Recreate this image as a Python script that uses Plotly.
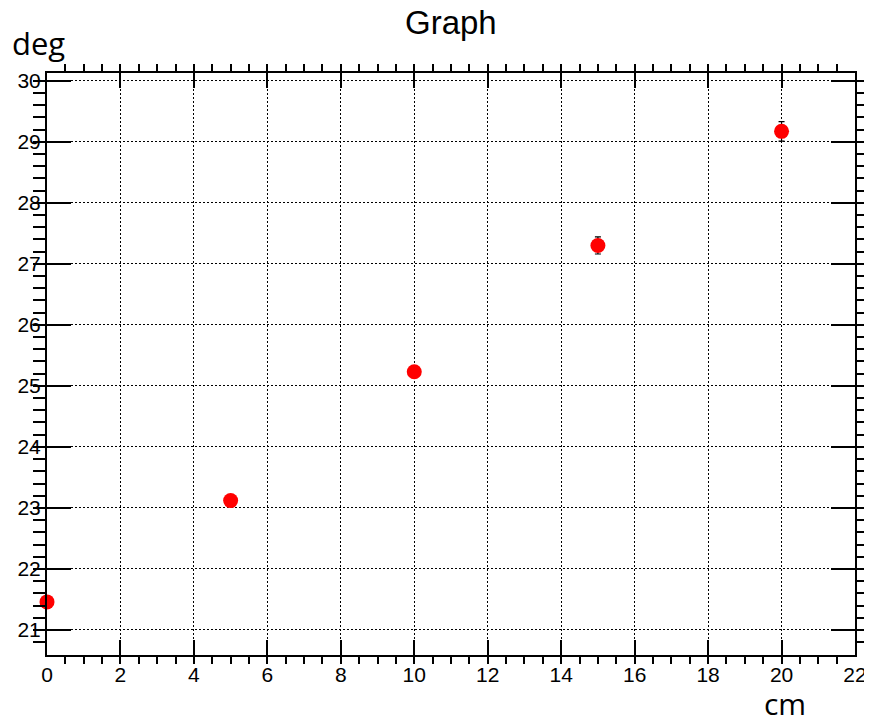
import plotly.graph_objects as go

# measurements
dist_cm = [0, 5, 10, 15, 20]
angle_deg = [21.46, 23.12, 25.23, 27.30, 29.17]
angle_err = [0.05, 0.05, 0.05, 0.14, 0.16]

fig = go.Figure()
fig.add_trace(go.Scatter(
    x=dist_cm, y=angle_deg, mode='markers',
    marker=dict(color='#ff0000', size=15, line=dict(width=0)),
    error_y=dict(type='data', array=angle_err, visible=True,
                 color='black', thickness=1.2, width=3),
    showlegend=False, cliponaxis=False,
))

tickfont = dict(family='Liberation Sans, Arial, sans-serif', size=21, color='black')
axis_common = dict(
    showline=True, linecolor='black', linewidth=2, mirror='ticks',
    ticks='inside', tickcolor='black', tickwidth=1.5,
    showgrid=True, gridcolor='black', griddash='1.5px,2.5px', gridwidth=1,
    zeroline=False, tickfont=tickfont, automargin=False,
)

fig.update_xaxes(range=[0, 22], dtick=2, tick0=0, ticklen=15,
                 minor=dict(dtick=0.5, ticklen=7, tickcolor='black', showgrid=False),
                 **axis_common)
fig.update_yaxes(range=[20.59, 30.126], dtick=1, tick0=21, ticklen=24,
                 minor=dict(dtick=0.2, ticklen=12, tickcolor='black', showgrid=False),
                 **axis_common)

# the page body adds an 8px offset, so margins are shifted to compensate
fig.update_layout(
    width=872, height=723,
    margin=dict(l=39, r=25, t=65, b=76),
    plot_bgcolor='white', paper_bgcolor='white',
    annotations=[
        dict(text='Graph', xref='paper', yref='paper', x=0.5, y=1.086,
             xanchor='center', yanchor='middle', showarrow=False, borderpad=0,
             font=dict(family='Liberation Sans, Arial, sans-serif', size=33, color='black')),
        dict(text='deg', xref='paper', yref='paper', x=-0.01, y=1.052,
             xanchor='center', yanchor='middle', showarrow=False, borderpad=0,
             font=dict(family='Open Sans, sans-serif', size=31, color='black')),
        dict(text='cm', xref='paper', yref='paper', x=0.913, y=-0.083,
             xanchor='center', yanchor='middle', showarrow=False, borderpad=0,
             font=dict(family='Open Sans, sans-serif', size=30, color='black')),
    ],
)

fig.write_html("out.html")
